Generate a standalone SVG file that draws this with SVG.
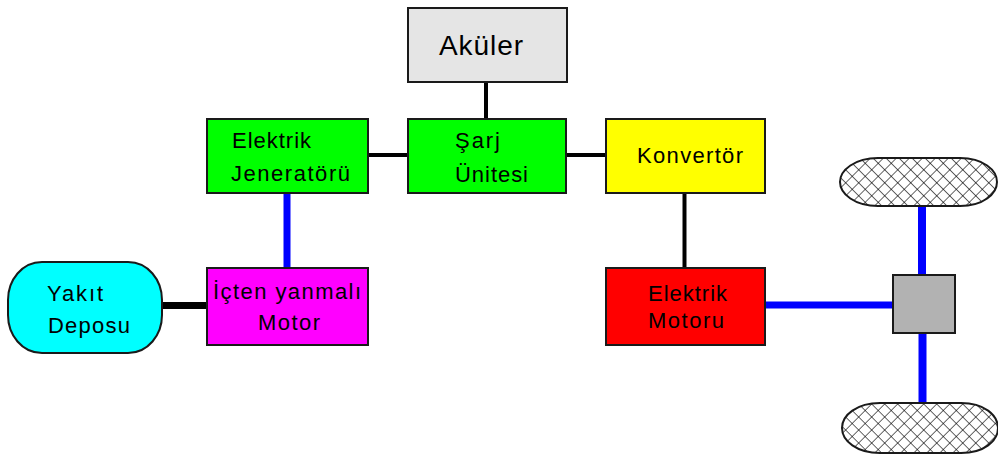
<svg xmlns="http://www.w3.org/2000/svg" width="998" height="457" viewBox="0 0 998 457">
<defs>
<pattern id="hatch" width="9.2" height="9.2" patternUnits="userSpaceOnUse" patternTransform="rotate(45)">
<rect width="9.2" height="9.2" fill="#ffffff"/>
<line x1="0" y1="0" x2="9.2" y2="0" stroke="#000" stroke-width="1.2"/>
<line x1="0" y1="0" x2="0" y2="9.2" stroke="#000" stroke-width="1.2"/>
</pattern>
</defs>
<style>
.box{stroke:#1a1a1a;stroke-width:2}
.t{font-family:"Liberation Sans",Arial,sans-serif;font-size:22px;fill:#000}
.blk{stroke:#000;fill:none}
.blu{stroke:#0000ff;fill:none}
</style>
<rect width="998" height="457" fill="#ffffff"/>
<g id="connectors">
<line class="blk" x1="486" y1="82" x2="486" y2="119" stroke-width="4"/>
<line class="blk" x1="368" y1="155" x2="408" y2="155" stroke-width="4"/>
<line class="blk" x1="566" y1="155" x2="606" y2="155" stroke-width="4"/>
<line class="blk" x1="684.5" y1="193" x2="684.5" y2="268" stroke-width="4"/>
<line class="blk" x1="161" y1="305.5" x2="207" y2="305.5" stroke-width="7"/>
<line class="blu" x1="287" y1="193" x2="287" y2="268" stroke-width="7"/>
<line class="blu" x1="765" y1="305" x2="893" y2="305" stroke-width="7"/>
<line class="blu" x1="922" y1="206" x2="922" y2="275" stroke-width="8"/>
<line class="blu" x1="922.5" y1="333" x2="922.5" y2="403" stroke-width="8"/>
</g>
<g id="akuler">
<rect class="box" x="408" y="8" width="159" height="74" fill="#e5e5e5"/>
<text class="t" x="439" y="55" style="font-size:28px" textLength="84" lengthAdjust="spacing">Aküler</text>
</g>
<g id="jenerator">
<rect class="box" x="207" y="119" width="161" height="74" fill="#00ff00"/>
<text class="t" x="232" y="148" textLength="79" lengthAdjust="spacing">Elektrik</text>
<text class="t" x="231" y="181" textLength="119" lengthAdjust="spacing">Jeneratörü</text>
</g>
<g id="sarj">
<rect class="box" x="408" y="119" width="158" height="74" fill="#00ff00"/>
<text class="t" x="455" y="148" textLength="45" lengthAdjust="spacing">Şarj</text>
<text class="t" x="455" y="182" textLength="73" lengthAdjust="spacing">Ünitesi</text>
</g>
<g id="konvertor">
<rect class="box" x="606" y="119" width="159" height="74" fill="#ffff00"/>
<text class="t" x="637" y="163" textLength="106" lengthAdjust="spacing">Konvertör</text>
</g>
<g id="yakit">
<path class="box" d="M42,262 H128 C148,262 162,280 162,300 V315 C162,335 148,353 128,353 H42 C22,353 8,335 8,315 V300 C8,280 22,262 42,262 Z" fill="#00ffff"/>
<text class="t" x="47" y="301" textLength="56" lengthAdjust="spacing">Yakıt</text>
<text class="t" x="48" y="333" textLength="82" lengthAdjust="spacing">Deposu</text>
</g>
<g id="icten">
<rect class="box" x="207" y="268" width="161" height="77" fill="#ff00ff"/>
<text class="t" x="213" y="299" textLength="148" lengthAdjust="spacing">İçten yanmalı</text>
<text class="t" x="258" y="330" textLength="62" lengthAdjust="spacing">Motor</text>
</g>
<g id="elektrik-motoru">
<rect class="box" x="606" y="268" width="159" height="77" fill="#ff0000"/>
<text class="t" x="648" y="301" textLength="79" lengthAdjust="spacing">Elektrik</text>
<text class="t" x="648" y="328" textLength="76" lengthAdjust="spacing">Motoru</text>
</g>
<g id="diferansiyel">
<rect class="box" x="893" y="275" width="62" height="58" fill="#b2b2b2"/>
</g>
<g id="teker-ust">
<path class="box" d="M878,158 H960 C983,158 997,170 997,182 C997,194 983,206 960,206 H878 C855,206 840,194 840,182 C840,170 855,158 878,158 Z" fill="url(#hatch)"/>
</g>
<g id="teker-alt">
<path class="box" d="M880,403 H961 C984,403 998,415 998,428 C998,441 984,453 961,453 H880 C857,453 842,441 842,428 C842,415 857,403 880,403 Z" fill="url(#hatch)"/>
</g>
</svg>
